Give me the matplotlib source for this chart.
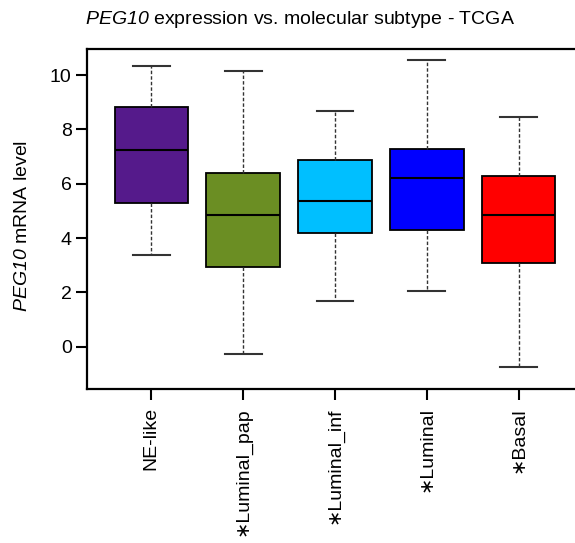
import matplotlib
matplotlib.use('Agg')
import matplotlib.pyplot as plt

plt.rcParams['font.family'] = ['Liberation Sans', 'DejaVu Sans']
# math text only used for the italic gene name -> all italic, digits too
plt.rcParams['mathtext.fontset'] = 'custom'
plt.rcParams['mathtext.rm'] = 'Liberation Sans:italic'
plt.rcParams['mathtext.it'] = 'Liberation Sans:italic'

# box summary
groups = ['NE-like', '\u2217Luminal_pap', '\u2217Luminal_inf', '\u2217Luminal', '\u2217Basal']
whis_lo = [3.36, -0.28, 1.68, 2.04, -0.75]
q1 = [5.28, 2.94, 4.20, 4.30, 3.07]
med = [7.25, 4.85, 5.37, 6.21, 4.84]
q3 = [8.81, 6.38, 6.87, 7.28, 6.27]
whis_hi = [10.33, 10.15, 8.66, 10.55, 8.47]
box_colors = ['#551A8B', '#6B8E23', '#00BFFF', '#0000FF', '#FF0000']

fig = plt.figure(figsize=(5.75, 5.43), dpi=100)
ax = fig.add_axes([87/575, 1-389/543, 496/575, 340/543])

stats = []
for i in range(len(groups)):
    stats.append({'label': groups[i], 'whislo': whis_lo[i], 'q1': q1[i], 'med': med[i],
                  'q3': q3[i], 'whishi': whis_hi[i], 'fliers': []})

bp = ax.bxp(stats, positions=range(1, len(groups) + 1), widths=0.8, patch_artist=True,
            showfliers=False,
            boxprops=dict(edgecolor='black', linewidth=1.3),
            medianprops=dict(color='black', linewidth=1.5),
            whiskerprops=dict(color='#333333', linewidth=1.0, linestyle=(0, (2.5, 1.5))),
            capprops=dict(color='#333333', linewidth=1.5),
            capwidths=0.4)
for patch, col in zip(bp['boxes'], box_colors):
    patch.set_facecolor(col)

ax.set_xlim(0.3, 5.7)
ax.set_ylim(-1.56, 10.96)
ax.set_yticks([0, 2, 4, 6, 8, 10])
ax.set_xticks(range(1, len(groups) + 1))
ax.set_xticklabels(groups, rotation=90, fontsize=14)
ax.tick_params(axis='y', labelsize=14, length=8, width=1.5, pad=3)
ax.tick_params(axis='x', length=8, width=1.5, pad=5)
for s in ax.spines.values():
    s.set_linewidth(1.6)

ax.set_ylabel(r'$PEG10$ mRNA level', fontsize=14)
ax.yaxis.set_label_coords(-0.112, 0.48)

fig.text(300/575, 1-19/543, r'$PEG10$ expression vs. molecular subtype - TCGA',
         ha='center', va='center', fontsize=14)

fig.savefig('out.png', dpi=100)
